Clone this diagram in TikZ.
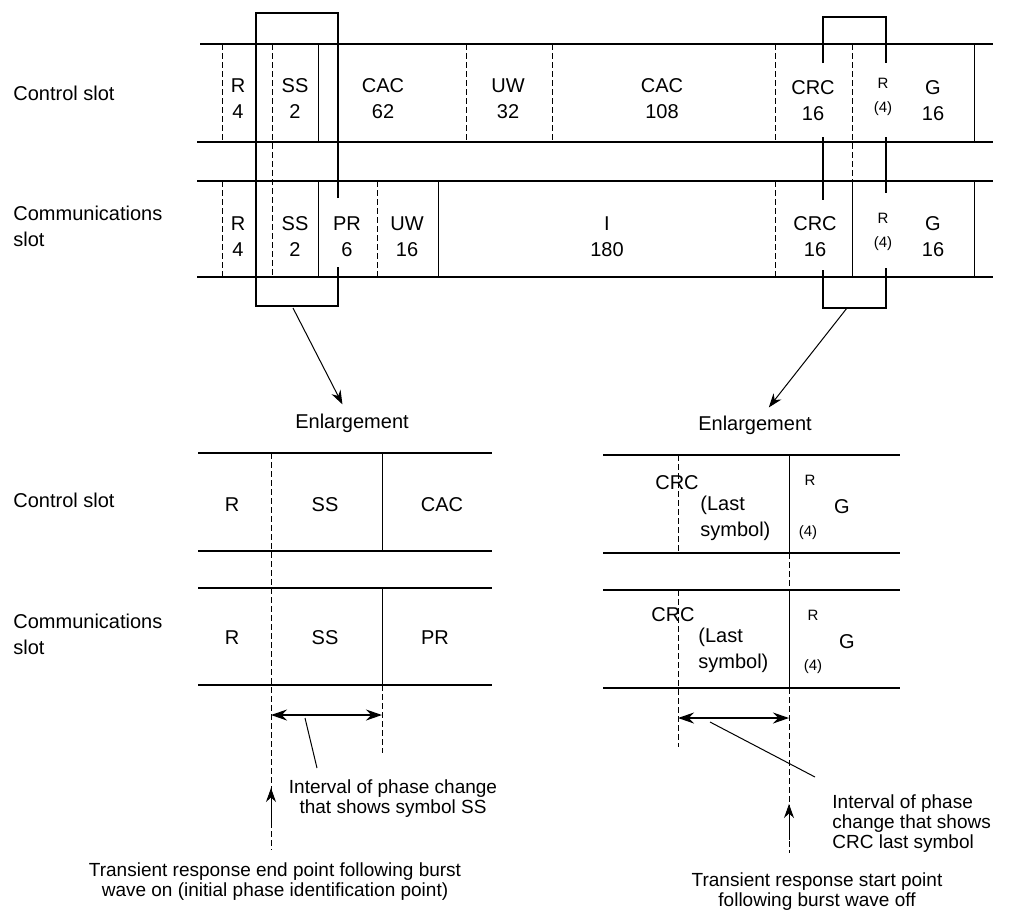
\documentclass[tikz,border=0pt]{standalone}
\usepackage{fontspec}
\setmainfont{Liberation Sans}
\usetikzlibrary{arrows.meta}
\tikzset{
  band/.style={line width=1pt},
  cut/.style={line width=0.5pt,dash pattern=on 3pt off 1.5pt},
  wall/.style={line width=0.5pt},
  encl/.style={line width=1.4pt},
  lbl/.style={font=\fontsize{10}{13}\selectfont,align=center,inner sep=0pt},
  smalllbl/.style={font=\fontsize{7.5}{12}\selectfont,align=center,inner sep=0pt},
  note/.style={font=\fontsize{9.5}{10}\selectfont,inner sep=0pt},
  ptr/.style={line width=0.5pt,-{Stealth[length=7pt,width=5pt]}},
  dimline/.style={line width=0.6pt,{Stealth[length=8pt,width=5.5pt]}-{Stealth[length=8pt,width=5.5pt]}},
}
\begin{document}
\begin{tikzpicture}[x=0.5pt,y=-0.5pt]
\useasboundingbox (0,0) rectangle (1012,918);
            % Row names
\node[lbl,anchor=west,align=left] (ctl) at (13,93) {Control slot};
\node[lbl,anchor=west,align=left] (com) at (13,226) {Communications\\slot};
\node[lbl,anchor=west,align=left] (ctl2) at (13,500) {Control slot};
\node[lbl,anchor=west,align=left] (com2) at (13,634) {Communications\\slot};
%Slot rows
\draw[band] (200,44) -- (993,44);
\draw[band] (197,142) -- (993,142);
\draw[band] (197,181) -- (993,181);
\draw[band] (197,277) -- (993,277);
%Field borders
\draw[cut] (222,44) -- (222,142);
\draw[cut] (272,44) -- (272,277);
\draw[wall] (318,44) -- (318,142);
\draw[cut] (466,44) -- (466,142);
\draw[cut] (552,44) -- (552,142);
\draw[cut] (775,44) -- (775,142);
\draw[cut] (852,44) -- (852,181);
\draw[wall] (974,44) -- (974,142);
\draw[cut] (222,181) -- (222,277);
\draw[wall] (318,181) -- (318,277);
\draw[cut] (377,181) -- (377,277);
\draw[wall] (438,181) -- (438,277);
\draw[cut] (775,181) -- (775,277);
\draw[wall] (852,181) -- (852,277);
\draw[wall] (974,181) -- (974,277);
%Fields (control)
\node[lbl] (c-r) at (238,99) {R\\4};
\node[lbl] (c-ss) at (295,99) {SS\\2};
\node[lbl] (c-cac) at (383,99) {CAC\\62};
\node[lbl] (c-uw) at (508,99) {UW\\32};
\node[lbl] (c-cacb) at (662,99) {CAC\\108};
\node[lbl] (c-crc) at (813,101) {CRC\\16};
\node[smalllbl] (c-rr) at (883,97) {R\\(4)};
\node[lbl] (c-g) at (933,101) {G\\16};
%Fields (communications)
\node[lbl] (m-r) at (238,237) {R\\4};
\node[lbl] (m-ss) at (295,237) {SS\\2};
\node[lbl] (m-pr) at (347,237) {PR\\6};
\node[lbl] (m-uw) at (407,237) {UW\\16};
\node[lbl] (m-i) at (607,237) {I\\180};
\node[lbl] (m-crc) at (815,237) {CRC\\16};
\node[smalllbl] (m-rr) at (883,232) {R\\(4)};
\node[lbl] (m-g) at (933,237) {G\\16};
%Enlargement frames
\draw[encl] (338,198) -- (338,13) -- (256,13) -- (256,306) -- (338,306) -- (338,267);
\draw[encl] (823,63) -- (823,17) -- (886,17) -- (886,63);
\draw[encl] (823,137) -- (823,200);
\draw[encl] (886,137) -- (886,193);
\draw[encl] (823,270) -- (823,308) -- (886,308) -- (886,268);
\coordinate (lbox) at (293,308);
\coordinate (rbox) at (847,308);
\node[lbl] (enl1) at (352,423) {Enlargement};
\node[lbl] (enl2) at (755,425) {Enlargement};
\draw[ptr,shorten >=5pt] (lbox) -- (enl1);
\draw[ptr,shorten >=5pt] (rbox) -- (enl2);
%Left enlargement
\draw[band] (198,453) -- (492,453);
\draw[band] (198,551) -- (492,551);
\draw[band] (198,588) -- (492,588);
\draw[band] (198,685) -- (492,685);
\draw[cut] (271,453) -- (271,850);
\draw[wall] (382,453) -- (382,551);
\draw[wall] (382,588) -- (382,685);
\draw[cut] (382,685) -- (382,753);
\node[lbl] (l-r) at (232,505) {R};
\node[lbl] (l-ss) at (325,505) {SS};
\node[lbl] (l-cac) at (442,505) {CAC};
\node[lbl] (l-r2) at (232,638) {R};
\node[lbl] (l-ss2) at (325,638) {SS};
\node[lbl] (l-pr) at (435,638) {PR};
\coordinate (la) at (271,715);
\coordinate (lb) at (382,715);
\draw[dimline] (la) -- (lb);
\coordinate (lp) at (305,718);
\coordinate (lq) at (317,768);
\draw[wall] (lp) -- (lq);
\node[note,align=center] (int1) at (393,799) {Interval of phase change\\that shows symbol SS};
\coordinate (lfoot) at (271,822);
\coordinate (ltip) at (271,788);
\draw[ptr] (lfoot) -- (ltip);
\node[note,align=center] (tr1) at (275,882) {Transient response end point following burst\\wave on (initial phase identification point)};
%Right enlargement
\draw[band] (603,455) -- (900,455);
\draw[band] (603,553) -- (900,553);
\draw[band] (603,590) -- (900,590);
\draw[band] (603,688) -- (900,688);
\draw[cut] (678,455) -- (678,553);
\draw[cut] (678,590) -- (678,747);
\draw[wall] (789,455) -- (789,553);
\draw[cut] (789,553) -- (789,590);
\draw[wall] (789,590) -- (789,688);
\draw[cut] (789,688) -- (789,853);
\node[lbl] (r-crc) at (677,483) {CRC};
\node[lbl,anchor=west,align=left] (r-last) at (700,518) {(Last\\symbol)};
\node[smalllbl] (r-r) at (810,480) {R};
\node[smalllbl] (r-four) at (808,533) {(4)};
\node[lbl] (r-g) at (842,507) {G};
\node[lbl] (r-crc2) at (673,615) {CRC};
\node[lbl,anchor=west,align=left] (r-last2) at (698,650) {(Last\\symbol)};
\node[smalllbl] (r-r2) at (813,615) {R};
\node[smalllbl] (r-four2) at (813,667) {(4)};
\node[lbl] (r-g2) at (847,642) {G};
\coordinate (ra) at (678,718);
\coordinate (rb) at (789,718);
\draw[dimline] (ra) -- (rb);
\coordinate (rp) at (710,722);
\coordinate (rq) at (815,777);
\draw[wall] (rp) -- (rq);
\node[note,anchor=west,align=left] (int2) at (832,824) {Interval of phase\\change that shows\\CRC last symbol};
\coordinate (rfoot) at (789,840);
\coordinate (rtip) at (789,804);
\draw[ptr] (rfoot) -- (rtip);
\node[note,align=center] (tr2) at (817,892) {Transient response start point\\following burst wave off};
\end{tikzpicture}
\end{document}
